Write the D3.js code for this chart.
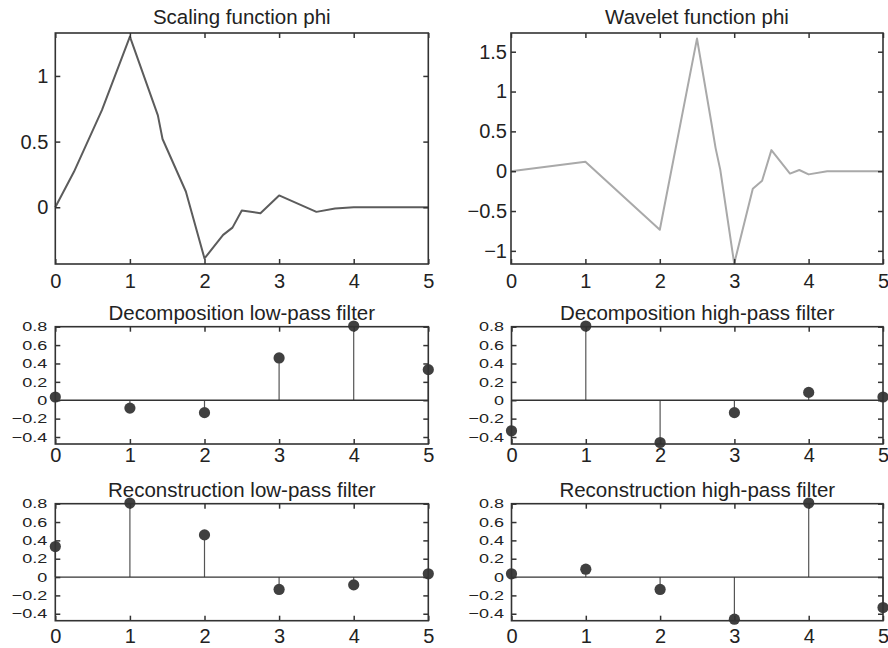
<!DOCTYPE html>
<html>
<head>
<meta charset="utf-8">
<script src="https://cdn.jsdelivr.net/npm/d3@7"></script>
<style>
  body { margin: 0; background: #fff; }
  svg { font-family: "Liberation Sans", Arial, sans-serif; }
</style>
</head>
<body>
<div id="chart"></div>
<script>
// Podatki (db3)
const filterIndex = [0, 1, 2, 3, 4, 5];
const decLow  = [0.0352, -0.0854, -0.1350, 0.4599, 0.8069, 0.3327];
const decHigh = [-0.3327, 0.8069, -0.4599, -0.1350, 0.0854, 0.0352];
const recLow  = [0.3327, 0.8069, 0.4599, -0.1350, -0.0854, 0.0352];
const recHigh = [0.0352, 0.0854, -0.1350, -0.4599, 0.8069, -0.3327];

const scalingX = [0, 0.25, 0.625, 1, 1.375, 1.4375, 1.5, 1.75, 2, 2.125, 2.25, 2.375, 2.5, 2.75, 3, 3.5, 3.75, 4, 5];
const scalingY = [0, 0.27, 0.74, 1.30, 0.70, 0.52, 0.44, 0.12, -0.39, -0.30, -0.21, -0.155, -0.025, -0.045, 0.09, -0.035, -0.01, 0, 0];

const waveletX = [0, 1, 2, 2.5, 2.6875, 2.75, 2.8125, 3, 3.25, 3.375, 3.5, 3.75, 3.875, 4, 4.25, 5];
const waveletY = [0, 0.12, -0.735, 1.665, 0.64, 0.29, 0.02, -1.16, -0.22, -0.12, 0.265, -0.03, 0.015, -0.04, 0, 0];

const xTicks = [0, 1, 2, 3, 4, 5];
const scalingTicks = [0, 0.5, 1];
const waveletTicks = [-1, -0.5, 0, 0.5, 1, 1.5];
const filterTicks = [-0.4, -0.2, 0, 0.2, 0.4, 0.6, 0.8];

const titles = [
  "Scaling function phi", "Wavelet function phi",
  "Decomposition low-pass filter", "Decomposition high-pass filter",
  "Reconstruction low-pass filter", "Reconstruction high-pass filter"
];

const width = 888, height = 648;
const svg = d3.select("#chart").append("svg")
  .attr("width", width).attr("height", height);

const fmt = d3.format("~g");

// Postavitev panelov
const panels = [
  { kind: "line", x: scalingX, y: scalingY, color: "#5c5c5c", box: [55.3, 428.3, 33, 264],
    yDomain: [-0.432, 1.327], yTicks: scalingTicks, gap: 7, xOff: 24, squash: 1, title: titles[0] },
  { kind: "line", x: waveletX, y: waveletY, color: "#a9a9a9", box: [511, 883, 33, 264],
    yDomain: [-1.165, 1.735], yTicks: waveletTicks, gap: 4, xOff: 24, squash: 1, title: titles[1] },
  { kind: "stem", x: filterIndex, y: decLow, box: [55.3, 428.3, 326.7, 444],
    yDomain: [-0.476, 0.8], yTicks: filterTicks, gap: 8, xOff: 18, squash: 0.72, title: titles[2] },
  { kind: "stem", x: filterIndex, y: decHigh, box: [511.5, 883, 326.7, 444],
    yDomain: [-0.476, 0.8], yTicks: filterTicks, gap: 7.5, xOff: 18, squash: 0.72, title: titles[3] },
  { kind: "stem", x: filterIndex, y: recLow, box: [55.3, 428.3, 503.7, 620.7],
    yDomain: [-0.476, 0.8], yTicks: filterTicks, gap: 8, xOff: 22.5, squash: 0.72, title: titles[4] },
  { kind: "stem", x: filterIndex, y: recHigh, box: [511.5, 883, 503.7, 620.7],
    yDomain: [-0.476, 0.8], yTicks: filterTicks, gap: 7.5, xOff: 22.5, squash: 0.72, title: titles[5] }
];

panels.forEach(p => {
  const [x0, x1, y0, y1] = p.box;
  const xScale = d3.scaleLinear().domain([0, 5]).range([x0, x1]);
  const yScale = d3.scaleLinear().domain(p.yDomain).range([y1, y0]);
  const g = svg.append("g");

  // Naslov
  g.append("text")
    .attr("x", (x0 + x1) / 2)
    .attr("y", y0 - (p.kind === "line" ? 8.7 : 7))
    .attr("text-anchor", "middle")
    .style("font-size", "20.5px")
    .attr("fill", "#222")
    .text(p.title);

  // Podatki
  if (p.kind === "line") {
    const pts = p.x.map((v, i) => [v, p.y[i]]);
    g.append("path")
      .datum(pts)
      .attr("fill", "none")
      .attr("stroke", p.color)
      .attr("stroke-width", 2)
      .attr("stroke-linejoin", "round")
      .attr("d", d3.line().x(d => xScale(d[0])).y(d => yScale(d[1])));
  } else {
    const pts = p.x.map((v, i) => ({ x: v, y: p.y[i] }));
    g.selectAll(".stem").data(pts).enter().append("line")
      .attr("x1", d => xScale(d.x)).attr("x2", d => xScale(d.x))
      .attr("y1", yScale(0)).attr("y2", d => yScale(d.y))
      .attr("stroke", "#555").attr("stroke-width", 1.2);
    g.append("line")
      .attr("x1", x0).attr("x2", x1)
      .attr("y1", yScale(0)).attr("y2", yScale(0))
      .attr("stroke", "#333").attr("stroke-width", 1.3);
    g.selectAll(".dot").data(pts).enter().append("circle")
      .attr("cx", d => xScale(d.x)).attr("cy", d => yScale(d.y))
      .attr("r", 5.6).attr("fill", "#404040");
  }

  // Osi
  const bottom = g.append("g").attr("transform", `translate(0,${y1})`)
    .call(d3.axisBottom(xScale).tickValues(xTicks).tickSize(-5).tickSizeOuter(0).tickPadding(0).tickFormat(fmt));
  bottom.selectAll("text")
    .attr("y", p.xOff).attr("dy", null)
    .style("font-size", "20px").attr("fill", "#222");

  g.append("g").attr("transform", `translate(0,${y0})`)
    .call(d3.axisTop(xScale).tickValues(xTicks).tickSize(-5).tickSizeOuter(0).tickFormat(""));

  const left = g.append("g").attr("transform", `translate(${x0},0)`)
    .call(d3.axisLeft(yScale).tickValues(p.yTicks).tickSize(-5).tickSizeOuter(0).tickPadding(p.gap).tickFormat(fmt));
  left.selectAll("text")
    .style("font-size", p.squash < 1 ? "18px" : "20px")
    .attr("fill", "#222")
    .attr("transform", `scale(1,${p.squash})`);

  g.append("g").attr("transform", `translate(${x1},0)`)
    .call(d3.axisRight(yScale).tickValues(p.yTicks).tickSize(-5).tickSizeOuter(0).tickFormat(""));

  g.selectAll(".domain").remove();
  g.selectAll(".tick line").attr("stroke", "#333").attr("stroke-width", 1.5);

  // Okvir
  g.append("rect")
    .attr("x", x0).attr("y", y0)
    .attr("width", x1 - x0).attr("height", y1 - y0)
    .attr("fill", "none").attr("stroke", "#333").attr("stroke-width", 1.6);
});
</script>
</body>
</html>
